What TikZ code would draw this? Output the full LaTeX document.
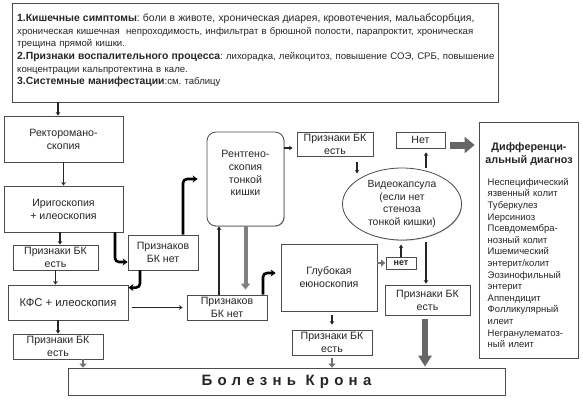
\documentclass[tikz,border=0pt]{standalone}
\usepackage{fontspec}
\setmainfont{Liberation Sans}
\newfontfamily\spacedfont[LetterSpace=35]{Liberation Sans}
\usetikzlibrary{arrows.meta,shapes.geometric,shadows}
\newcommand\topbold[1]{{\fontsize{10.4}{12.7}\selectfont\bfseries #1}}
\newcommand\firstline[1]{{\fontsize{10.4}{12.7}\selectfont #1}}
\begin{document}
\frenchspacing
\begin{tikzpicture}[x=1pt,y=-1pt,
  box/.style={draw=black!70, line width=0.8pt, fill=white, inner sep=0pt, align=center,
    font=\fontsize{10.6}{12.8}\selectfont, text=black!85,
    drop shadow={shadow xshift=0.8pt, shadow yshift=-0.8pt, fill=black!35, opacity=0.6}},
  arr/.style={draw=black!85, line width=1.3pt, -{Stealth[length=3.5pt,width=4.5pt]}},
  boldarr/.style={draw=black, line width=2.6pt, rounded corners=4pt, -{Stealth[length=5pt,width=7pt]}},
  grayarr/.style={draw=black!50, line width=4pt, -{Triangle[length=6pt,width=9pt]}},
  blockarr/.style={draw=black!60, line width=7pt, -{Triangle[length=10pt,width=16pt]}},
  smallblock/.style={draw=black!55, line width=2.5pt, -{Triangle[length=4pt,width=7pt]}}
]
\useasboundingbox (0,0) rectangle (583,400);
\fill[white] (0,0) rectangle (583,400);

% top box
\node[box, minimum width=486pt, minimum height=99pt] (top) at (255,52.5) {};
\node[anchor=north west, inner sep=0pt, text width=500pt, align=left,
  font=\fontsize{9.6}{12.7}\selectfont, text=black!85] (toptext) at (17,13.5)
{\topbold{1.Кишечные симптомы}\firstline{: боли в животе, хроническая диарея, кровотечения, мальабсорбция,}\\
хроническая кишечная \ непроходимость, инфильтрат в брюшной полости, парапроктит, хроническая\\
трещина прямой кишки.\\
\topbold{2.Признаки воспалительного процесса}: лихорадка, лейкоцитоз, повышение СОЭ, СРБ, повышение\\
концентрации кальпротектина в кале.\\
\topbold{3.Системные манифестации}:см. таблицу};

% left column
\node[box, minimum width=119pt, minimum height=46pt] (rekto) at (63.5,139) {Ректоромано-\\скопия};
\node[box, minimum width=119pt, minimum height=46pt] (irigo) at (63.5,209) {Иригоскопия\\+ илеоскопия};
\node[box, minimum width=85pt, minimum height=25pt] (pr1) at (55.5,257.5) {Признаки БК\\есть};
\node[box, minimum width=120pt, minimum height=35pt, font=\fontsize{11.3}{13}\selectfont] (kfs) at (68,302.5) {КФС + илеоскопия};
\node[box, minimum width=90pt, minimum height=25pt] (pr2) at (58,346.5) {Признаки БК\\есть};
\node[box, minimum width=70pt, minimum height=35pt] (net1) at (163,252.5) {Признаков\\БК нет};
\node[box, minimum width=80pt, minimum height=25pt] (net2) at (227,307.5) {Признаков\\БК нет};

% middle
\node[box, rounded corners=9pt, minimum width=77pt, minimum height=94pt, text depth=12pt] (rent) at (245.5,179) {Рентгено-\\скопия\\тонкой\\кишки};
\node[box, minimum width=76pt, minimum height=24pt] (prTop) at (335,144) {Признаки БК\\есть};
\node[box, minimum width=49pt, minimum height=16pt] (netTop) at (420.5,140) {Нет};
\node[box, ellipse, minimum width=119pt, minimum height=72pt, font=\fontsize{10.4}{12.8}\selectfont] (video) at (402,204) {Видеокапсула\\(если нет\\стеноза\\тонкой кишки)};
\node[box, minimum width=96pt, minimum height=67pt] (glub) at (329,277.5) {Глубокая\\еюноскопия};
\node[box, minimum width=30pt, minimum height=12pt, font=\fontsize{9}{10}\selectfont\bfseries] (netSmall) at (401,263) {нет};
\node[box, minimum width=85pt, minimum height=30pt] (prRight) at (427.5,300) {Признаки БК\\есть};
\node[box, minimum width=80pt, minimum height=25pt] (prMid) at (332,342.5) {Признаки БК\\есть};

% bottom
\node[box, minimum width=437pt, minimum height=27pt, font=\fontsize{15}{16}\spacedfont\bfseries] (crohn) at (286.5,381.5) {Болезнь Крона};

% differential box
\node[box, minimum width=99pt, minimum height=236pt] (diff) at (528.5,240) {};
\node[inner sep=0pt, align=center, font=\fontsize{10.8}{13}\selectfont\bfseries, text=black!85, anchor=north] (difftitle) at (529,142.5) {Дифференци-\\альный диагноз};
\node[inner sep=0pt, anchor=north west, align=left, text width=90pt, font=\fontsize{9.5}{11.6}\selectfont, text=black!85] (difflist) at (487.5,178)
{Неспецифический\\язвенный колит\\Туберкулез\\Иерсиниоз\\Псевдомембра-\\нозный колит\\Ишемический\\энтерит/колит\\Эозинофильный\\энтерит\\Аппендицит\\Фолликулярный\\илеит\\Негранулематоз-\\ный илеит};

% connectors
\draw[arr] ([xshift=-5.5pt]rekto.north |- top.south) -- ([xshift=-5.5pt]rekto.north);
\draw[arr] (rekto.south) -- (irigo.north);
\draw[arr] ([xshift=-3.5pt]irigo.south) -- ([xshift=-3.5pt]irigo.south |- pr1.north);
\draw[arr] (pr1.south) -- (pr1.south |- kfs.north);
\draw[arr] (pr2.north |- kfs.south) -- (pr2.north);
\draw[smallblock] ([xshift=25pt]pr2.south) -- ([xshift=25pt]pr2.south |- crohn.north);
\draw[boldarr] ([xshift=51.5pt]irigo.south) |- ([yshift=-9.5pt]net1.west);
\draw[boldarr] ([xshift=20pt]net1.north) |- ([xshift=-9pt]rent.west);
\draw[boldarr] ([xshift=-23pt]net1.south) |- ([yshift=-3pt]kfs.north east);
\draw[arr] ([xshift=4pt]kfs.east |- net2.west) -- ([xshift=-4pt]net2.west);
\draw[arr] ([xshift=-8pt]net2.north) -- ([xshift=-8pt]net2.north |- rent.south);
\draw[grayarr] (rent.south) -- ([yshift=5pt]rent.south |- net2.north);
\draw[boldarr] ([xshift=36pt]net2.north) |- ([xshift=-5pt,yshift=4.5pt]glub.west);
\draw[arr] ([yshift=-4pt]prTop.west -| rent.east) -- ([xshift=-4pt,yshift=-4pt]prTop.west);
\draw[arr] ([xshift=22pt,yshift=-6pt]prTop.south) -- ([xshift=22pt,yshift=-17pt]prTop.south);
\draw[arr] ([xshift=5.5pt,yshift=-20pt]netTop.south) -- ([xshift=5.5pt,yshift=-4pt]netTop.south);
\draw[blockarr] ([xshift=5pt,yshift=-5pt]netTop.east) -- ([xshift=-4pt,yshift=-5pt]netTop.east -| diff.west);
\draw[smallblock] (glub.east |- netSmall.west) -- ([xshift=-0.5pt]netSmall.west);
\draw[arr] (netSmall.north) -- ([yshift=12pt]netSmall.north);
\draw[arr] ([xshift=-1.5pt,yshift=-2pt]prRight.north |- video.south) -- ([xshift=-1.5pt,yshift=1pt]prRight.north);
\draw[blockarr, line width=6pt, -{Triangle[length=11pt,width=13pt]}] ([xshift=-2.5pt,yshift=-4pt]prRight.south) -- ([xshift=-2.5pt,yshift=1pt]prRight.south |- crohn.north);
\draw[arr] ([yshift=-4pt]prMid.north |- glub.south) -- ([yshift=5pt]prMid.north);
\draw[smallblock] ([yshift=-3pt]prMid.south) -- (prMid.south |- crohn.north);
\end{tikzpicture}
\end{document}
